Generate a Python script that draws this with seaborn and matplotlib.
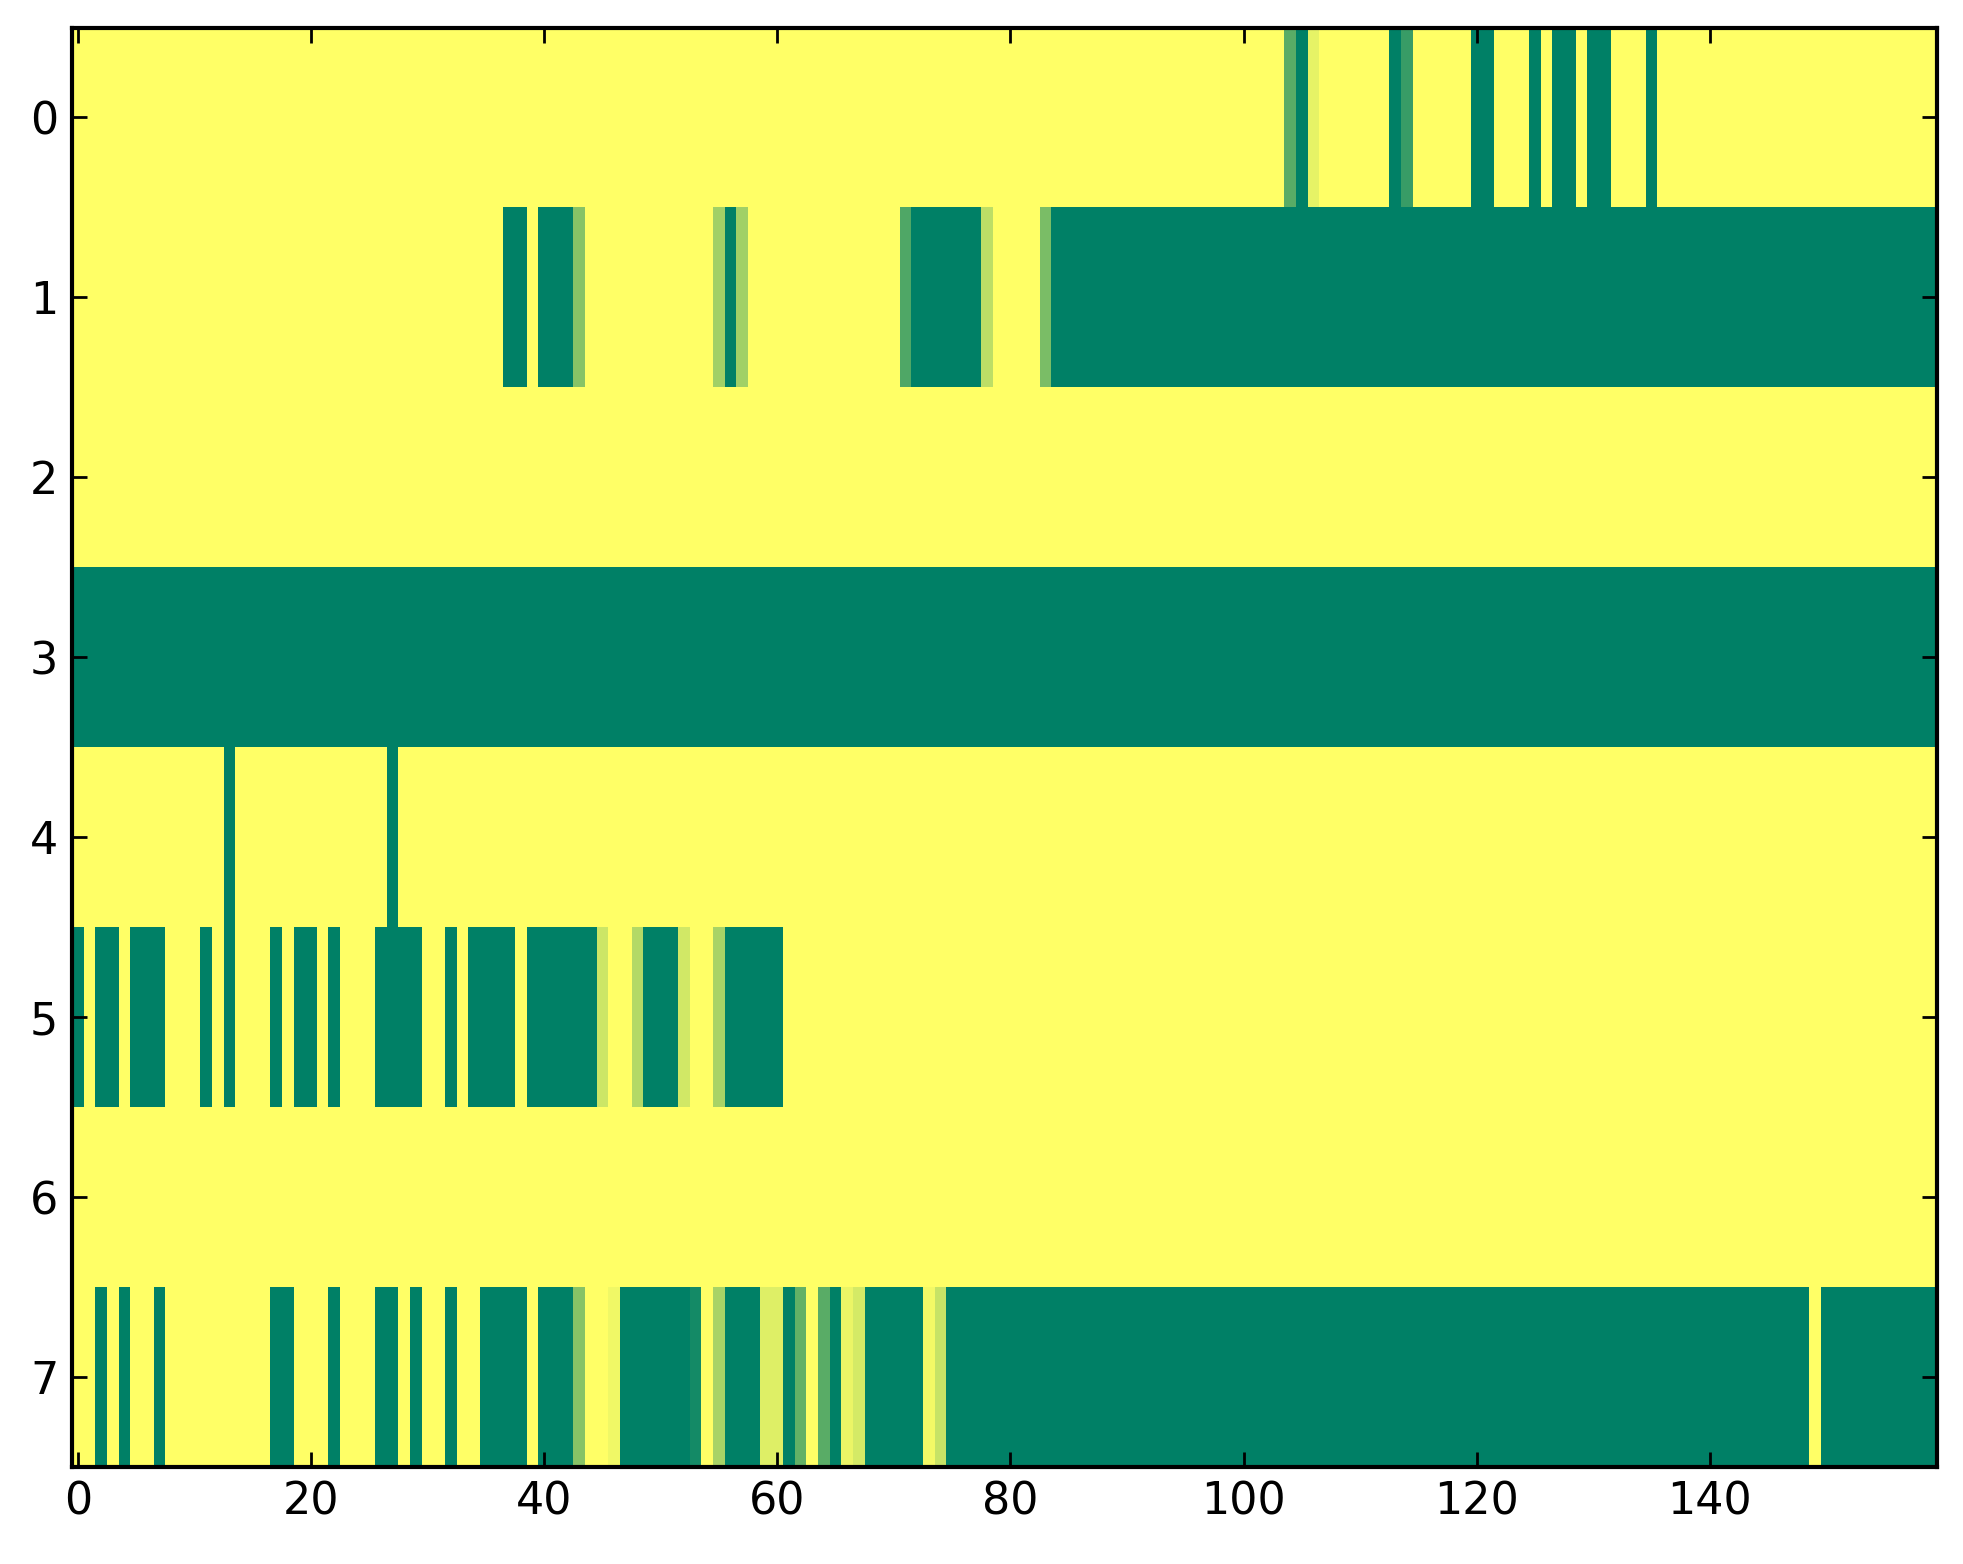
import numpy as np
import pandas as pd
import matplotlib
matplotlib.use("Agg")
import matplotlib.pyplot as plt
import seaborn as sns

# 행/열 개수
n_rows = 8
n_cols = 160

# 배경은 1.0 (노란색), 아래는 노란색이 아닌 칸만 (시작열, 끝열, 값)
row_0 = [(104, 104, 0.35), (105, 105, 0.0), (106, 106, 0.9), (113, 113, 0.0),
         (114, 114, 0.22), (120, 121, 0.0), (125, 125, 0.0), (127, 128, 0.0),
         (130, 131, 0.0), (135, 135, 0.0)]
row_1 = [(37, 38, 0.0), (40, 42, 0.0), (43, 43, 0.53), (55, 55, 0.63),
         (56, 56, 0.0), (57, 57, 0.63), (71, 71, 0.31), (72, 77, 0.0),
         (78, 78, 0.74), (83, 83, 0.48), (84, 159, 0.0)]
row_2 = []
row_3 = [(0, 159, 0.0)]
row_4 = [(13, 13, 0.0), (27, 27, 0.0)]
row_5 = [(0, 0, 0.0), (2, 3, 0.0), (5, 7, 0.0), (11, 11, 0.0), (13, 13, 0.0),
         (17, 17, 0.0), (19, 20, 0.0), (22, 22, 0.0), (26, 29, 0.0),
         (32, 32, 0.0), (34, 37, 0.0), (39, 44, 0.0), (45, 45, 0.8),
         (48, 48, 0.7), (49, 51, 0.0), (52, 52, 0.82), (55, 55, 0.66),
         (56, 60, 0.0)]
row_6 = []
row_7 = [(2, 2, 0.0), (4, 4, 0.0), (7, 7, 0.0), (17, 18, 0.0), (22, 22, 0.0),
         (26, 27, 0.0), (29, 29, 0.0), (32, 32, 0.0), (35, 38, 0.0),
         (40, 42, 0.0), (43, 43, 0.53), (46, 46, 0.94), (47, 52, 0.0),
         (53, 53, 0.08), (55, 55, 0.66), (56, 58, 0.0), (59, 60, 0.87),
         (61, 61, 0.0), (62, 62, 0.39), (64, 64, 0.35), (65, 65, 0.0),
         (66, 66, 0.92), (67, 67, 0.83), (68, 72, 0.0), (73, 73, 0.95),
         (74, 74, 0.78), (75, 148, 0.0), (150, 159, 0.0)]

x_ticks = [0, 20, 40, 60, 80, 100, 120, 140]
y_ticks = [0, 1, 2, 3, 4, 5, 6, 7]

# 행렬 만들기
grid = np.ones((n_rows, n_cols))
for r, runs in enumerate([row_0, row_1, row_2, row_3, row_4, row_5, row_6, row_7]):
    for start, end, val in runs:
        grid[r, start:end + 1] = val
df = pd.DataFrame(grid)

plt.rcParams["font.family"] = ["DejaVu Sans"]

fig = plt.figure(figsize=(1963 / 200, 1564 / 200), dpi=200)
ax = fig.add_axes([0.0367, 0.062, 0.9501, 0.9204])

sns.heatmap(df, ax=ax, cmap="summer", vmin=0, vmax=1, cbar=False,
            xticklabels=False, yticklabels=False, linewidths=0, rasterized=True)

ax.set_xticks([t + 0.5 for t in x_ticks])
ax.set_xticklabels([str(t) for t in x_ticks], rotation=0)
ax.set_yticks([t + 0.5 for t in y_ticks])
ax.set_yticklabels([str(t) for t in y_ticks], rotation=0)
ax.set_xlabel("")
ax.set_ylabel("")

for s in ax.spines.values():
    s.set_visible(True)
    s.set_linewidth(1.5)
    s.set_color("black")

ax.tick_params(direction="in", top=True, right=True, bottom=True, left=True,
               length=5.5, width=1.0, labelsize=16, pad=5, color="black")

fig.savefig("out.png", dpi=200)
